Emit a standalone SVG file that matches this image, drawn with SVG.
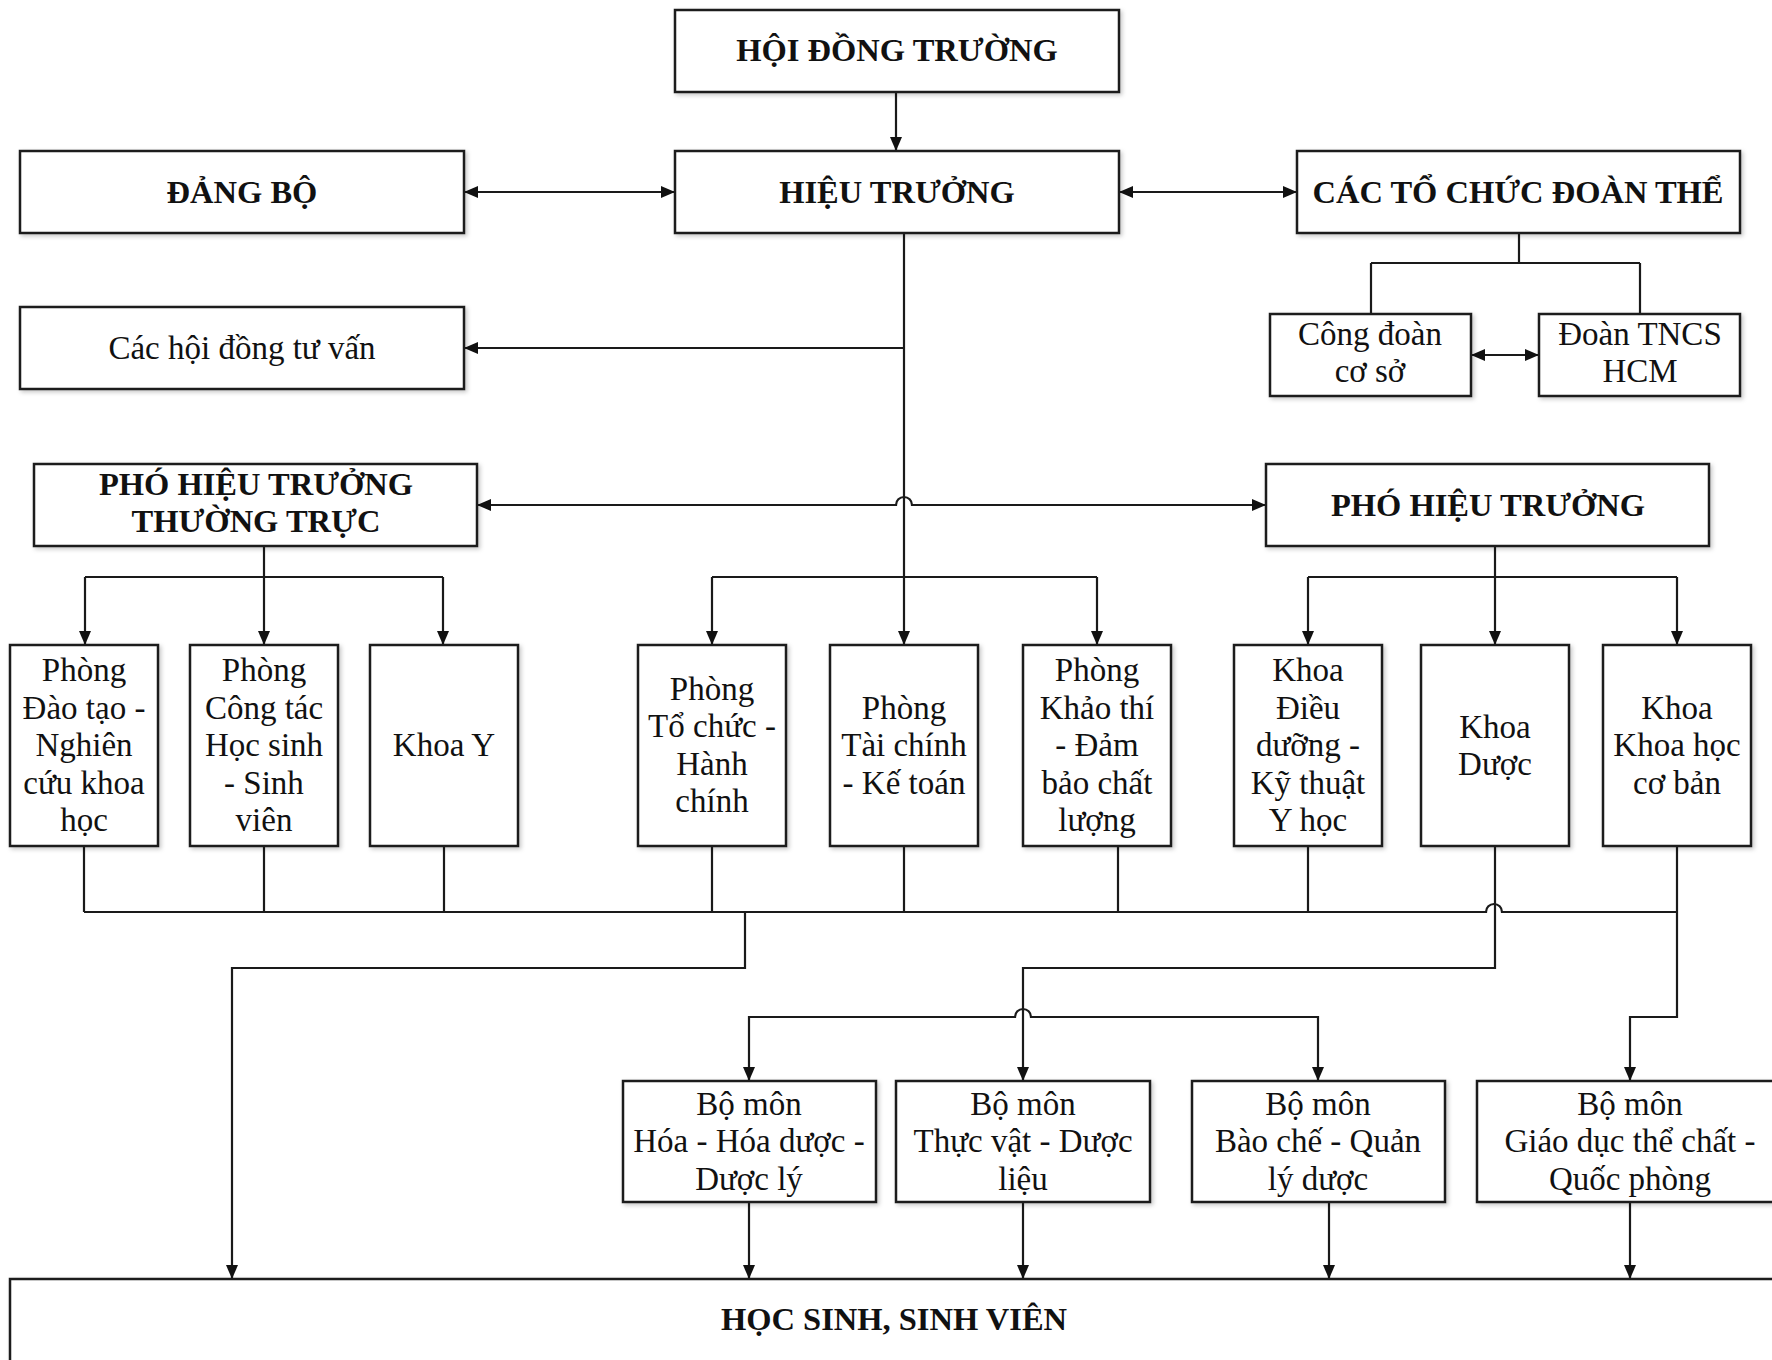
<svg xmlns="http://www.w3.org/2000/svg" width="1772" height="1360" viewBox="0 0 1772 1360">
<style>
.box{fill:#fff;stroke:#1a1a1a;stroke-width:2.5;filter:url(#sh)}
.c{fill:none;stroke:#1a1a1a;stroke-width:2.2}
.a{marker-end:url(#ar)}
.aa{marker-start:url(#ar);marker-end:url(#ar)}
text{font-family:"Liberation Serif","Times New Roman",serif;fill:#111;text-anchor:middle}
.n{font-size:33px}
.b{font-size:32.5px;font-weight:bold}
</style>
<defs>
<filter id="sh" x="-5%" y="-5%" width="115%" height="115%"><feDropShadow dx="2" dy="2" stdDeviation="2" flood-color="#000" flood-opacity="0.22"/></filter>
<marker id="ar" markerUnits="userSpaceOnUse" markerWidth="15" markerHeight="12" refX="14" refY="6" orient="auto-start-reverse"><path d="M0,0 L14,6 L0,12 z" fill="#111"/></marker>
</defs>
<rect width="1772" height="1360" fill="#fff"/>

<g id="connectors">
<path class="c a" d="M896,92 V151"/>
<path class="c aa" d="M464,192 H675"/>
<path class="c aa" d="M1119,192 H1297"/>
<path class="c" d="M1519,233 V263 M1371,263 H1640 M1371,263 V314 M1640,263 V314"/>
<path class="c aa" d="M1471,355 H1539"/>
<path class="c a" d="M904,233 V645"/>
<path class="c a" d="M904,348 H464"/>
<path class="c aa" d="M477,505 H896 A8,8 0 0 1 912,505 H1266"/>
<path class="c a" d="M264,546 V645"/>
<path class="c" d="M85,577 H443"/>
<path class="c a" d="M85,577 V645"/>
<path class="c a" d="M443,577 V645"/>
<path class="c" d="M712,577 H1097"/>
<path class="c a" d="M712,577 V645"/>
<path class="c a" d="M1097,577 V645"/>
<path class="c a" d="M1495,546 V645"/>
<path class="c" d="M1308,577 H1677"/>
<path class="c a" d="M1308,577 V645"/>
<path class="c a" d="M1677,577 V645"/>
<path class="c" d="M84,846 V912 M264,846 V912 M444,846 V912 M712,846 V912 M904,846 V912 M1118,846 V912 M1308,846 V912"/>
<path class="c" d="M84,912 H1486 A8,8 0 0 1 1502,912 H1677"/>
<path class="c a" d="M1677,846 V1017 H1630 V1081"/>
<path class="c a" d="M1495,846 V968 H1023 V1081"/>
<path class="c aa" d="M749,1081 V1017 H1015 A8,8 0 0 1 1031,1017 H1318 V1081"/>
<path class="c a" d="M745,912 V968 H232 V1279"/>
<path class="c a" d="M749,1202 V1279"/>
<path class="c a" d="M1023,1202 V1279"/>
<path class="c a" d="M1329,1202 V1279"/>
<path class="c a" d="M1630,1202 V1279"/>
</g>

<g id="hoi-dong-truong"><rect class="box" x="675" y="10" width="444" height="82"/>
<text class="b" x="897" y="61">HỘI ĐỒNG TRƯỜNG</text></g>

<g id="dang-bo"><rect class="box" x="20" y="151" width="444" height="82"/>
<text class="b" x="242" y="203">ĐẢNG BỘ</text></g>

<g id="hieu-truong"><rect class="box" x="675" y="151" width="444" height="82"/>
<text class="b" x="897" y="203">HIỆU TRƯỞNG</text></g>

<g id="cac-to-chuc"><rect class="box" x="1297" y="151" width="443" height="82"/>
<text class="b" x="1518" y="203">CÁC TỔ CHỨC ĐOÀN THỂ</text></g>

<g id="cong-doan"><rect class="box" x="1270" y="314" width="201" height="82"/>
<text class="n"><tspan x="1370" y="345">Công đoàn</tspan><tspan x="1370" y="382">cơ sở</tspan></text></g>

<g id="doan-tncs"><rect class="box" x="1539" y="314" width="201" height="82"/>
<text class="n"><tspan x="1640" y="345">Đoàn TNCS</tspan><tspan x="1640" y="382">HCM</tspan></text></g>

<g id="hoi-dong-tu-van"><rect class="box" x="20" y="307" width="444" height="82"/>
<text class="n" x="242" y="359">Các hội đồng tư vấn</text></g>

<g id="pht-thuong-truc"><rect class="box" x="34" y="464" width="443" height="82"/>
<text class="b"><tspan x="256" y="495">PHÓ HIỆU TRƯỞNG</tspan><tspan x="256" y="532">THƯỜNG TRỰC</tspan></text></g>

<g id="pht"><rect class="box" x="1266" y="464" width="443" height="82"/>
<text class="b" x="1488" y="516">PHÓ HIỆU TRƯỞNG</text></g>

<g id="phong-dao-tao"><rect class="box" x="10" y="645" width="148" height="201"/>
<text class="n"><tspan x="84" y="681">Phòng</tspan><tspan x="84" y="719">Đào tạo -</tspan><tspan x="84" y="756">Nghiên</tspan><tspan x="84" y="794">cứu khoa</tspan><tspan x="84" y="831">học</tspan></text></g>

<g id="phong-cong-tac"><rect class="box" x="190" y="645" width="148" height="201"/>
<text class="n"><tspan x="264" y="681">Phòng</tspan><tspan x="264" y="719">Công tác</tspan><tspan x="264" y="756">Học sinh</tspan><tspan x="264" y="794">- Sinh</tspan><tspan x="264" y="831">viên</tspan></text></g>

<g id="khoa-y"><rect class="box" x="370" y="645" width="148" height="201"/>
<text class="n" x="444" y="756">Khoa Y</text></g>

<g id="phong-to-chuc"><rect class="box" x="638" y="645" width="148" height="201"/>
<text class="n"><tspan x="712" y="700">Phòng</tspan><tspan x="712" y="737">Tổ chức -</tspan><tspan x="712" y="775">Hành</tspan><tspan x="712" y="812">chính</tspan></text></g>

<g id="phong-tai-chinh"><rect class="box" x="830" y="645" width="148" height="201"/>
<text class="n"><tspan x="904" y="719">Phòng</tspan><tspan x="904" y="756">Tài chính</tspan><tspan x="904" y="794">- Kế toán</tspan></text></g>

<g id="phong-khao-thi"><rect class="box" x="1023" y="645" width="148" height="201"/>
<text class="n"><tspan x="1097" y="681">Phòng</tspan><tspan x="1097" y="719">Khảo thí</tspan><tspan x="1097" y="756">- Đảm</tspan><tspan x="1097" y="794">bảo chất</tspan><tspan x="1097" y="831">lượng</tspan></text></g>

<g id="khoa-dieu-duong"><rect class="box" x="1234" y="645" width="148" height="201"/>
<text class="n"><tspan x="1308" y="681">Khoa</tspan><tspan x="1308" y="719">Điều</tspan><tspan x="1308" y="756">dưỡng -</tspan><tspan x="1308" y="794">Kỹ thuật</tspan><tspan x="1308" y="831">Y học</tspan></text></g>

<g id="khoa-duoc"><rect class="box" x="1421" y="645" width="148" height="201"/>
<text class="n"><tspan x="1495" y="738">Khoa</tspan><tspan x="1495" y="775">Dược</tspan></text></g>

<g id="khoa-khcb"><rect class="box" x="1603" y="645" width="148" height="201"/>
<text class="n"><tspan x="1677" y="719">Khoa</tspan><tspan x="1677" y="756">Khoa học</tspan><tspan x="1677" y="794">cơ bản</tspan></text></g>

<g id="bm-hoa"><rect class="box" x="623" y="1081" width="253" height="121"/>
<text class="n"><tspan x="749" y="1115">Bộ môn</tspan><tspan x="749" y="1152">Hóa - Hóa dược -</tspan><tspan x="749" y="1190">Dược lý</tspan></text></g>

<g id="bm-thuc-vat"><rect class="box" x="896" y="1081" width="254" height="121"/>
<text class="n"><tspan x="1023" y="1115">Bộ môn</tspan><tspan x="1023" y="1152">Thực vật - Dược</tspan><tspan x="1023" y="1190">liệu</tspan></text></g>

<g id="bm-bao-che"><rect class="box" x="1192" y="1081" width="253" height="121"/>
<text class="n"><tspan x="1318" y="1115">Bộ môn</tspan><tspan x="1318" y="1152">Bào chế - Quản</tspan><tspan x="1318" y="1190">lý dược</tspan></text></g>

<g id="bm-giao-duc"><rect class="box" x="1477" y="1081" width="310" height="121"/>
<text class="n"><tspan x="1630" y="1115">Bộ môn</tspan><tspan x="1630" y="1152">Giáo dục thể chất -</tspan><tspan x="1630" y="1190">Quốc phòng</tspan></text></g>

<g id="hoc-sinh"><rect class="box" x="10" y="1279" width="1775" height="100"/>
<text class="b" x="894" y="1330">HỌC SINH, SINH VIÊN</text></g>
</svg>
